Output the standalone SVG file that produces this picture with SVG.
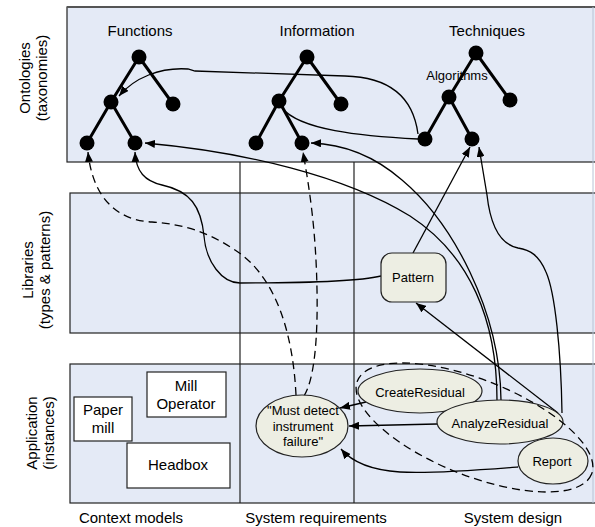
<svg xmlns="http://www.w3.org/2000/svg" width="595" height="527" viewBox="0 0 595 527">
  <defs>
    <marker id="arrow" viewBox="0 0 10 8" refX="10" refY="4" markerWidth="10" markerHeight="8" markerUnits="userSpaceOnUse" orient="auto">
      <path d="M0,0 L10,4 L0,8 Z" fill="#000"/>
    </marker>
    <style>
      text { font-family: "Liberation Sans", Arial, sans-serif; fill: #000; }
      .lbl { font-size: 15px; text-anchor: middle; }
      .sm { font-size: 13px; text-anchor: middle; }
      .panel { fill: #E4EAF6; stroke: #222; stroke-width: 1.2; }
      .edge { stroke: #000; stroke-width: 3; stroke-linecap: round; }
      .dot { fill: #000; }
      .box { fill: #fff; stroke: #222; stroke-width: 1.2; }
      .elem { fill: #EDEEE3; stroke: #222; stroke-width: 1.2; }
      .conn { fill: none; stroke: #000; stroke-width: 1.3; }
      .dash { fill: none; stroke: #000; stroke-width: 1.3; stroke-dasharray: 8 5; }
    </style>
  </defs>

  <!-- layer panels -->
  <g id="panels">
    <rect class="panel" x="67" y="7" width="540" height="155"/>
    <line x1="67" y1="7" x2="595" y2="7" stroke="#555" stroke-width="2"/>
    <rect class="panel" x="70" y="193" width="540" height="140"/>
    <rect class="panel" x="70" y="364" width="540" height="139"/>
    <line x1="593" y1="7" x2="593" y2="503" stroke="#B8C2D4" stroke-width="1"/>
    <line x1="240" y1="162" x2="240" y2="503" stroke="#222" stroke-width="1.2"/>
    <line x1="354" y1="162" x2="354" y2="503" stroke="#222" stroke-width="1.2"/>
  </g>

  <!-- layer captions -->
  <g id="row-labels">
    <text class="lbl" transform="translate(30,78) rotate(-90)">Ontologies</text>
    <text class="lbl" transform="translate(47,78) rotate(-90)">(taxonomies)</text>
    <text class="lbl" transform="translate(33,270) rotate(-90)">Libraries</text>
    <text class="lbl" transform="translate(50,270) rotate(-90)">(types &amp; patterns)</text>
    <text class="lbl" transform="translate(37,433) rotate(-90)">Application</text>
    <text class="lbl" transform="translate(54,433) rotate(-90)">(instances)</text>
  </g>
  <g id="column-labels">
    <text class="lbl" x="131" y="523">Context models</text>
    <text class="lbl" x="316" y="523">System requirements</text>
    <text class="lbl" x="513" y="523">System design</text>
  </g>

  <!-- taxonomy trees -->
  <g id="functions-tree">
    <text class="lbl" x="140" y="36">Functions</text>
    <line class="edge" x1="139" y1="57" x2="111" y2="102"/>
    <line class="edge" x1="139" y1="57" x2="173" y2="104"/>
    <line class="edge" x1="111" y1="102" x2="87" y2="143"/>
    <line class="edge" x1="111" y1="102" x2="135" y2="143"/>
    <circle class="dot" cx="139" cy="57" r="7.5"/>
    <circle class="dot" cx="111" cy="102" r="7.5"/>
    <circle class="dot" cx="173" cy="104" r="7.5"/>
    <circle class="dot" cx="87" cy="143" r="7.5"/>
    <circle class="dot" cx="135" cy="143" r="7.5"/>
  </g>
  <g id="information-tree">
    <text class="lbl" x="317" y="36">Information</text>
    <line class="edge" x1="307" y1="57" x2="279" y2="101"/>
    <line class="edge" x1="307" y1="57" x2="341" y2="104"/>
    <line class="edge" x1="279" y1="101" x2="256" y2="143"/>
    <line class="edge" x1="279" y1="101" x2="302" y2="143"/>
    <circle class="dot" cx="307" cy="57" r="7.5"/>
    <circle class="dot" cx="279" cy="101" r="7.5"/>
    <circle class="dot" cx="341" cy="104" r="7.5"/>
    <circle class="dot" cx="256" cy="143" r="7.5"/>
    <circle class="dot" cx="302" cy="143" r="7.5"/>
  </g>
  <g id="techniques-tree">
    <text class="lbl" x="487" y="36">Techniques</text>
    <line class="edge" x1="476" y1="53" x2="449" y2="97"/>
    <line class="edge" x1="476" y1="53" x2="510" y2="100"/>
    <line class="edge" x1="449" y1="97" x2="425" y2="139"/>
    <line class="edge" x1="449" y1="97" x2="472" y2="139"/>
    <circle class="dot" cx="476" cy="53" r="7.5"/>
    <circle class="dot" cx="449" cy="97" r="7.5"/>
    <circle class="dot" cx="510" cy="100" r="7.5"/>
    <circle class="dot" cx="425" cy="139" r="7.5"/>
    <circle class="dot" cx="472" cy="139" r="7.5"/>
    <text class="sm" x="457" y="80">Algorithms</text>
  </g>

  <!-- context model boxes -->
  <g id="paper-mill">
    <rect class="box" x="74" y="397" width="58" height="44"/>
    <text class="lbl" x="103" y="415">Paper</text>
    <text class="lbl" x="103" y="433">mill</text>
  </g>
  <g id="mill-operator">
    <rect class="box" x="147" y="372" width="79" height="45"/>
    <text class="lbl" x="186" y="391">Mill</text>
    <text class="lbl" x="186" y="409">Operator</text>
  </g>
  <g id="headbox">
    <rect class="box" x="127" y="443" width="103" height="45"/>
    <text class="lbl" x="178" y="470">Headbox</text>
  </g>

  <!-- connectors -->
  <g id="connectors">
    <!-- Algorithms leaf to Functions -->
    <path class="conn" d="M418,134 C413,96 388,77 345,76 L195,71 L188,69 C160,67 134,78 119,96" marker-end="url(#arrow)"/>
    <!-- Algorithms leaf to Information -->
    <path class="conn" d="M418,139 C360,136 300,130 282,108"/>
    <!-- AnalyzeResidual to Functions leaf -->
    <path class="conn" d="M497,400 C497,320 470,255 410,216 C345,176 245,152 145,143" marker-end="url(#arrow)"/>
    <!-- AnalyzeResidual to Information leaf -->
    <path class="conn" d="M501,400 C500,310 452,222 402,180 C372,154 342,144 311,143" marker-end="url(#arrow)"/>
    <!-- Pattern to Techniques leaf -->
    <path class="conn" d="M413,253 L470,147" marker-end="url(#arrow)"/>
    <!-- AnalyzeResidual to Techniques leaf -->
    <path class="conn" d="M562,413 C561,350 555,292 546,272 C539,255 530,250 518,248 C498,244 490,222 487,195 L479,147" marker-end="url(#arrow)"/>
    <!-- AnalyzeResidual to Pattern -->
    <path class="conn" d="M558,413 L416,303" marker-end="url(#arrow)"/>
    <!-- Pattern to Functions leaf -->
    <path class="conn" d="M381,276 C360,281 300,283 240,283 C222,283 206,262 204,236 C201,206 190,191 162,185 C145,181 136,172 135,152" marker-end="url(#arrow)"/>
    <!-- requirement traced to Functions leaf -->
    <path class="dash" d="M296,395 C293,335 277,277 235,250 C205,230 180,224 152,222 C112,220 92,192 88,152" marker-end="url(#arrow)"/>
    <!-- requirement traced to Information leaf -->
    <path class="dash" d="M304,396 C314,380 318,340 317,290 C316,232 310,192 303,152" marker-end="url(#arrow)"/>
    <!-- design elements satisfying the requirement -->
    <path class="conn" d="M366,402 L340,408" marker-end="url(#arrow)"/>
    <path class="conn" d="M437,424 L349,426" marker-end="url(#arrow)"/>
    <path class="conn" d="M518,467 C480,470 430,474 400,472 C370,470 352,462 341,449" marker-end="url(#arrow)"/>
  </g>

  <!-- library pattern -->
  <g id="pattern">
    <rect class="elem" x="381" y="253" width="65" height="49" rx="11" ry="11"/>
    <text class="sm" x="413" y="282">Pattern</text>
  </g>

  <!-- requirement and design elements -->
  <g id="requirement">
    <ellipse class="elem" cx="302" cy="426" rx="46" ry="31"/>
    <text class="sm" x="303" y="415">"Must detect</text>
    <text class="sm" x="303" y="431">instrument</text>
    <text class="sm" x="303" y="446">failure"</text>
  </g>
  <g id="create-residual">
    <ellipse class="elem" cx="420" cy="391" rx="62" ry="22"/>
    <text class="sm" x="420" y="397">CreateResidual</text>
  </g>
  <g id="analyze-residual">
    <ellipse class="elem" cx="500" cy="422" rx="63" ry="22"/>
    <text class="sm" x="500" y="428">AnalyzeResidual</text>
  </g>
  <g id="report">
    <ellipse class="elem" cx="553" cy="461" rx="35" ry="23"/>
    <text class="sm" x="552" y="466">Report</text>
  </g>
  <g id="design-group">
    <ellipse class="dash" cx="474.5" cy="427.5" rx="126" ry="48" transform="rotate(21.7 474.5 427.5)"/>
  </g>
</svg>
